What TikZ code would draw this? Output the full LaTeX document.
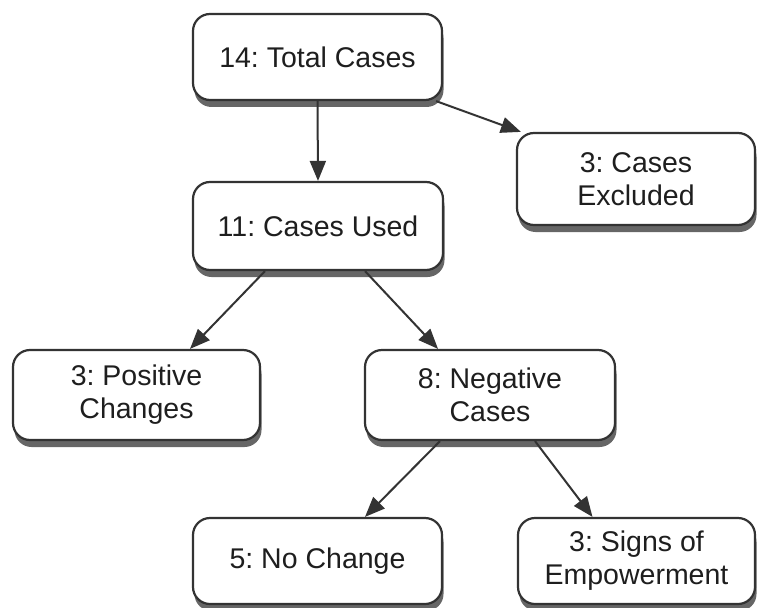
\documentclass[tikz,border=0pt]{standalone}
\usepackage{fontspec}
\setmainfont{Liberation Sans}
\usetikzlibrary{arrows.meta,shadows}
\definecolor{edge}{HTML}{333333}
\definecolor{txt}{HTML}{1E1E1E}
\frenchspacing
\tikzset{
  box/.style={draw=edge, line width=2.2pt, fill=white, rounded corners=17pt,
    align=center, text=txt, font=\fontsize{28.5}{33}\selectfont,
    inner sep=0pt, minimum height=88pt,
    drop shadow={shadow xshift=1.5pt, shadow yshift=-7pt, fill=black!60, opacity=1}},
  link/.style={draw=edge, line width=2pt, -{Triangle[length=20pt,width=16pt]}}
}
\begin{document}
\begin{tikzpicture}[x=1pt,y=1pt]
\useasboundingbox (0,0) rectangle (759,-607);
\node[box, minimum width=249pt, minimum height=86pt] (n1) at (317.5,-57) {14: Total Cases};
\node[box, minimum width=238pt, minimum height=92pt] (n2) at (636,-179) {3: Cases\\Excluded};
\node[box, minimum width=250pt] (n3) at (318,-226) {11: Cases Used};
\node[box, minimum width=247pt, minimum height=90pt] (n4) at (136.5,-395) {3: Positive\\Changes};
\node[box, minimum width=250pt, minimum height=90pt] (n5) at (490,-395) {8: Negative\\Cases};
\node[box, minimum width=249pt, minimum height=86pt] (n6) at (317.5,-561) {5: No Change};
\node[box, minimum width=237pt, minimum height=86pt] (n7) at (636.5,-561) {3: Signs of\\Empowerment};
\draw[link] (n1.south) -- (n3.north);
\draw[link] ([xshift=-7pt]n1.south east) -- ([xshift=5pt]n2.north west);
\draw[link] ([xshift=-53pt]n3.south) -- ([xshift=53.5pt]n4.north);
\draw[link] ([xshift=47pt]n3.south) -- ([xshift=-52pt]n5.north);
\draw[link] ([xshift=-50pt]n5.south) -- ([xshift=47.5pt]n6.north);
\draw[link] ([xshift=45pt]n5.south) -- ([xshift=-44pt]n7.north);
\end{tikzpicture}
\end{document}
